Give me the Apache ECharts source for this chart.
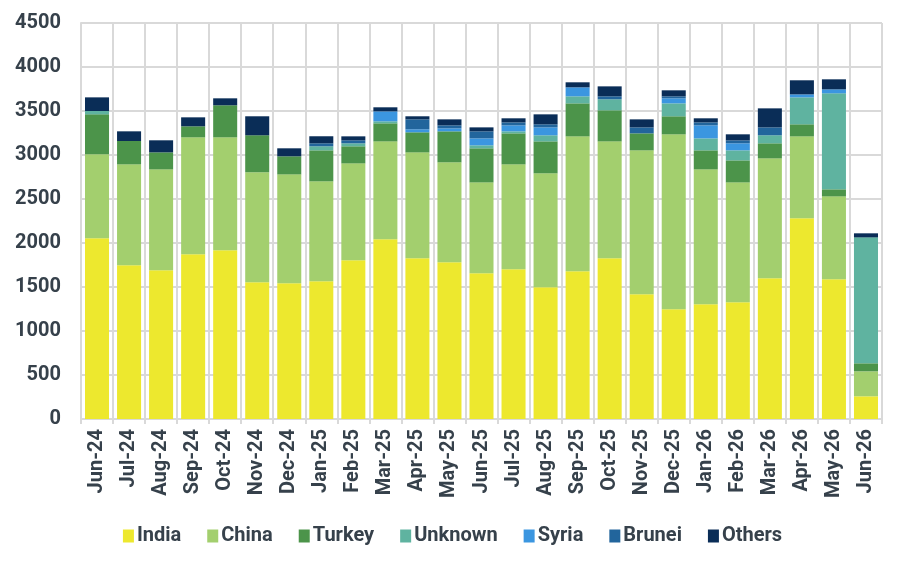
<!DOCTYPE html>
<html>
<head>
<meta charset="utf-8">
<script src="https://cdn.jsdelivr.net/npm/echarts@6/dist/echarts.min.js"></script>
<style>
  html, body { margin: 0; padding: 0; background: #fff; }
  #bar { width: 905px; height: 567px; }
</style>
</head>
<body>
<div id="bar"></div>
<script>
// 月份
const months = ['Jun-24', 'Jul-24', 'Aug-24', 'Sep-24', 'Oct-24', 'Nov-24', 'Dec-24',
  'Jan-25', 'Feb-25', 'Mar-25', 'Apr-25', 'May-25', 'Jun-25', 'Jul-25', 'Aug-25',
  'Sep-25', 'Oct-25', 'Nov-25', 'Dec-25', 'Jan-26', 'Feb-26', 'Mar-26', 'Apr-26',
  'May-26', 'Jun-26'];
// 各来源数据
const india = [2053, 1746, 1689, 1871, 1917, 1553, 1542, 1564, 1803, 2042, 1826, 1780, 1655,
  1701, 1496, 1678, 1826, 1417, 1246, 1303, 1326, 1599, 2280, 1587, 258];
const china = [955, 1148, 1148, 1330, 1284, 1250, 1238, 1137, 1102, 1113, 1204, 1137, 1034,
  1193, 1296, 1534, 1329, 1636, 1989, 1534, 1363, 1363, 932, 943, 284];
const turkey = [454, 265, 193, 125, 364, 421, 205, 352, 194, 205, 228, 352, 387,
  352, 363, 375, 353, 193, 205, 216, 250, 171, 137, 80, 91];
const unknown = [38, 0, 0, 0, 0, 0, 0, 46, 34, 23, 0, 0, 34,
  23, 69, 80, 125, 0, 147, 136, 114, 91, 306, 1091, 1431];
const syria = [0, 0, 0, 0, 0, 0, 0, 0, 0, 113, 34, 34, 79,
  68, 90, 102, 0, 0, 57, 148, 80, 0, 34, 45, 0];
const brunei = [0, 0, 0, 0, 0, 0, 0, 34, 34, 0, 113, 34, 80,
  34, 35, 0, 34, 68, 23, 34, 34, 90, 0, 0, 0];
const others = [155, 110, 137, 102, 79, 216, 91, 80, 45, 46, 35, 68, 45,
  46, 113, 57, 113, 91, 68, 46, 68, 216, 160, 114, 46];

const textColor = '#36414b';
const gridColor = '#d9d9d9';

let myChart = echarts.init(document.getElementById('bar'));

function mkSeries(name, data, color) {
  return {
    name: name,
    type: 'bar',
    stack: 'total',
    barWidth: '75%',
    itemStyle: { color: color },
    data: data
  };
}

myChart.setOption({
  animation: false,
  textStyle: { fontFamily: 'Roboto' },
  grid: {
    left: 81,
    right: 23,
    top: 23,
    bottom: 148
  },
  legend: {
    bottom: 16,
    left: 'center',
    itemWidth: 11,
    itemHeight: 13,
    itemGap: 26,
    icon: 'rect',
    textStyle: {
      color: textColor,
      fontSize: 20,
      fontWeight: 'bold',
      padding: [0, 0, 0, -2]
    },
    data: ['India', 'China', 'Turkey', 'Unknown', 'Syria', 'Brunei', 'Others']
  },
  xAxis: {
    type: 'category',
    data: months,
    axisLine: { lineStyle: { color: gridColor, width: 2 } },
    axisTick: { show: true, length: 5, lineStyle: { color: gridColor, width: 2 } },
    splitLine: { show: true, lineStyle: { color: gridColor, width: 2 } },
    axisLabel: {
      rotate: 90,
      interval: 0,
      margin: 10,
      color: textColor,
      fontSize: 20,
      fontWeight: 'bold'
    }
  },
  yAxis: {
    type: 'value',
    min: 0,
    max: 4500,
    interval: 500,
    axisLine: { show: true, lineStyle: { color: gridColor, width: 2 } },
    axisTick: { show: false },
    splitLine: { lineStyle: { color: gridColor, width: 2 } },
    axisLabel: {
      margin: 20,
      color: textColor,
      fontSize: 20,
      fontWeight: 'bold',
      formatter: function (v) { return String(v); }
    }
  },
  series: [
    mkSeries('India', india, '#ede82e'),
    mkSeries('China', china, '#a3cf6e'),
    mkSeries('Turkey', turkey, '#4c944a'),
    mkSeries('Unknown', unknown, '#5fb3a0'),
    mkSeries('Syria', syria, '#3b96e0'),
    mkSeries('Brunei', brunei, '#22659c'),
    mkSeries('Others', others, '#0a2d57')
  ]
});
</script>
</body>
</html>
